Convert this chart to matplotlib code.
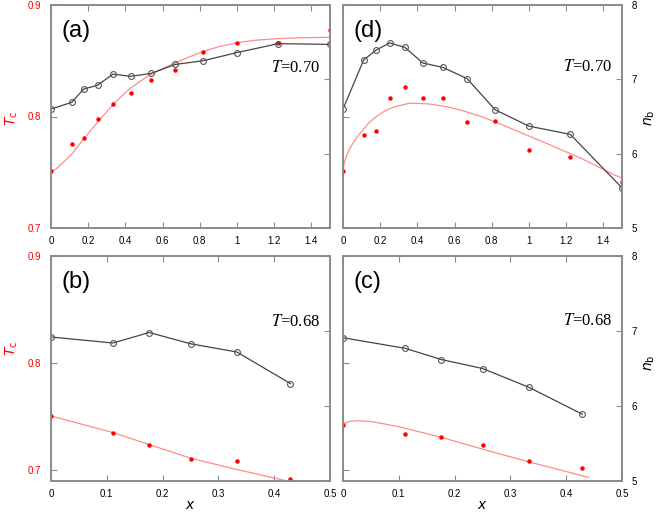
import matplotlib
matplotlib.use("Agg")
import matplotlib.pyplot as plt
from matplotlib.ticker import FormatStrFormatter

plt.rcParams['font.family'] = ['Liberation Sans', 'DejaVu Sans']

# x values of the simulations
x_long = [0, 0.111, 0.176, 0.25, 0.333, 0.429, 0.538, 0.667, 0.818, 1.0, 1.222, 1.5]
x_short = [0, 0.111, 0.176, 0.25, 0.333, 0.429]

# panel (a), T=0.70
a_tc = [0.751, 0.775, 0.781, 0.798, 0.811, 0.821, 0.833, 0.842, 0.858, 0.866, 0.866, 0.878]
a_nb = [6.60, 6.69, 6.87, 6.92, 7.07, 7.04, 7.08, 7.20, 7.25, 7.36, 7.48, 7.47]
a_fit_x = [0, 0.028, 0.055, 0.109, 0.172, 0.253, 0.333, 0.4, 0.434, 0.523, 0.613, 0.72, 0.815,
           0.9, 1.0, 1.1, 1.213, 1.35, 1.5]
a_fit_y = [0.7507, 0.7530, 0.7573, 0.7657, 0.7791, 0.7955, 0.8105, 0.8215, 0.8262, 0.8365, 0.8440,
           0.8518, 0.8582, 0.8625, 0.8662, 0.8684, 0.8698, 0.8706, 0.8711]

# panel (d), T=0.70
d_tc = [0.7507, 0.783, 0.7866, 0.8167, 0.8263, 0.8167, 0.817, 0.7949, 0.7964, 0.7696, 0.7636, 0.7412]
d_nb = [6.60, 7.26, 7.39, 7.49, 7.43, 7.22, 7.16, 7.01, 6.59, 6.37, 6.26, 5.54]
d_fit_x = [0, 0.005, 0.018, 0.035, 0.054, 0.08, 0.108, 0.14, 0.18, 0.22, 0.27, 0.36, 0.459, 0.55,
           0.65, 0.75, 0.85, 0.95, 1.1, 1.28, 1.457, 1.5]
d_fit_y = [0.7513, 0.7570, 0.7642, 0.7710, 0.7762, 0.7825, 0.7881, 0.7945, 0.8000, 0.8045, 0.8084,
           0.8120, 0.8113, 0.8090, 0.8050, 0.7995, 0.7930, 0.7860, 0.7755, 0.7625, 0.7478, 0.7448]

# panel (b), T=0.68
b_tc = [0.751, 0.7346, 0.7234, 0.7104, 0.7088, 0.6915]
b_nb = [6.92, 6.84, 6.98, 6.83, 6.72, 6.30]
b_fit_x = [0, 0.111, 0.176, 0.25, 0.325, 0.411, 0.44]
b_fit_y = [0.7507, 0.7352, 0.724, 0.7113, 0.7017, 0.6915, 0.688]

# panel (c), T=0.68
c_tc = [0.7422, 0.7335, 0.731, 0.7236, 0.7087, 0.7024]
c_nb = [6.91, 6.77, 6.62, 6.50, 6.25, 5.89]
c_fit_x = [0, 0.01, 0.025, 0.05, 0.075, 0.105, 0.176, 0.249, 0.332, 0.44]
c_fit_y = [0.7432, 0.7455, 0.7463, 0.7455, 0.7432, 0.7401, 0.7308, 0.7199, 0.708, 0.6934]

RED = '#ff0000'
FIT = '#ff8c8c'
GREY = '#8c8c8c'

W, H = 660, 514
fig = plt.figure(figsize=(6.6, 5.14), dpi=100)


def panel(box, x, tc, nb, fx, fy, xmax, xstep, tclim, label, temp, left):
    l, t, r, b = box
    ax = fig.add_axes([l / W, 1 - b / H, (r - l) / W, (b - t) / H])
    ax2 = ax.twinx()
    ax.plot(fx, fy, color=FIT, lw=0.9, zorder=2)
    ax.plot(x, tc, 'o', color=RED, ms=3.2, mew=0, zorder=3)
    ax2.plot(x, nb, '-o', color='#444444', lw=0.9, ms=4.2, mfc='none', mec='#555555', mew=0.8)

    ax.set_xlim(0, xmax)
    ax.set_ylim(*tclim)
    ax2.set_ylim(5, 8)
    ax.set_xticks([i * xstep for i in range(int(round(xmax / xstep)) + 1) if i * xstep <= xmax + 1e-9])
    ax.xaxis.set_major_formatter(FormatStrFormatter('%g'))
    ax.set_yticks([0.7, 0.8, 0.9])
    ax.yaxis.set_major_formatter(FormatStrFormatter('%g'))
    ax2.set_yticks([5, 6, 7, 8])

    for a in (ax, ax2):
        for s in a.spines.values():
            s.set_color(GREY)
            s.set_linewidth(1.3)
    ax.tick_params(axis='x', direction='in', top=True, length=4, color=GREY,
                   labelsize=7, pad=6)
    ax.tick_params(axis='y', direction='in', length=4, color=GREY, labelsize=7,
                   labelcolor=RED, labelleft=left, pad=7)
    ax2.tick_params(axis='y', direction='in', length=4, color=GREY, labelsize=7,
                    labelright=not left, pad=7)

    ax.text(0.038, 0.885, label, transform=ax.transAxes, fontsize=17, ha='left', va='center')
    ax.text(0.965, temp, r'$T$=0.' + ('70' if xmax > 1 else '68'), transform=ax.transAxes,
            fontsize=12, ha='right', va='center', family='Liberation Serif',
            math_fontfamily='stix')
    return ax, ax2


panel((51, 5, 330, 228), x_long, a_tc, a_nb, a_fit_x, a_fit_y, 1.5, 0.2, (0.7, 0.9), '(a)', 0.717, True)
panel((343, 5, 622, 228), x_long, d_tc, d_nb, d_fit_x, d_fit_y, 1.5, 0.2, (0.7, 0.9), '(d)', 0.723, False)
panel((51, 256, 330, 481), x_short, b_tc, b_nb, b_fit_x, b_fit_y, 0.5, 0.1, (0.69, 0.9), '(b)', 0.708, True)
panel((343, 256, 622, 481), x_short, c_tc, c_nb, c_fit_x, c_fit_y, 0.5, 0.1, (0.69, 0.9), '(c)', 0.711, False)

for yc in (118, 348):
    fig.text(12 / W, 1 - yc / H, r'$T_{\rm c}$', color=RED, rotation=90, fontsize=10,
             ha='center', va='center')
for yc in (118, 363):
    fig.text(650 / W, 1 - yc / H, r'$n_{\rm b}$', rotation=90, fontsize=10,
             ha='center', va='center')
for xc in (190, 482):
    fig.text(xc / W, 1 - 505 / H, r'$x$', fontsize=10, ha='center', va='center')

fig.savefig('out.png', dpi=100)
